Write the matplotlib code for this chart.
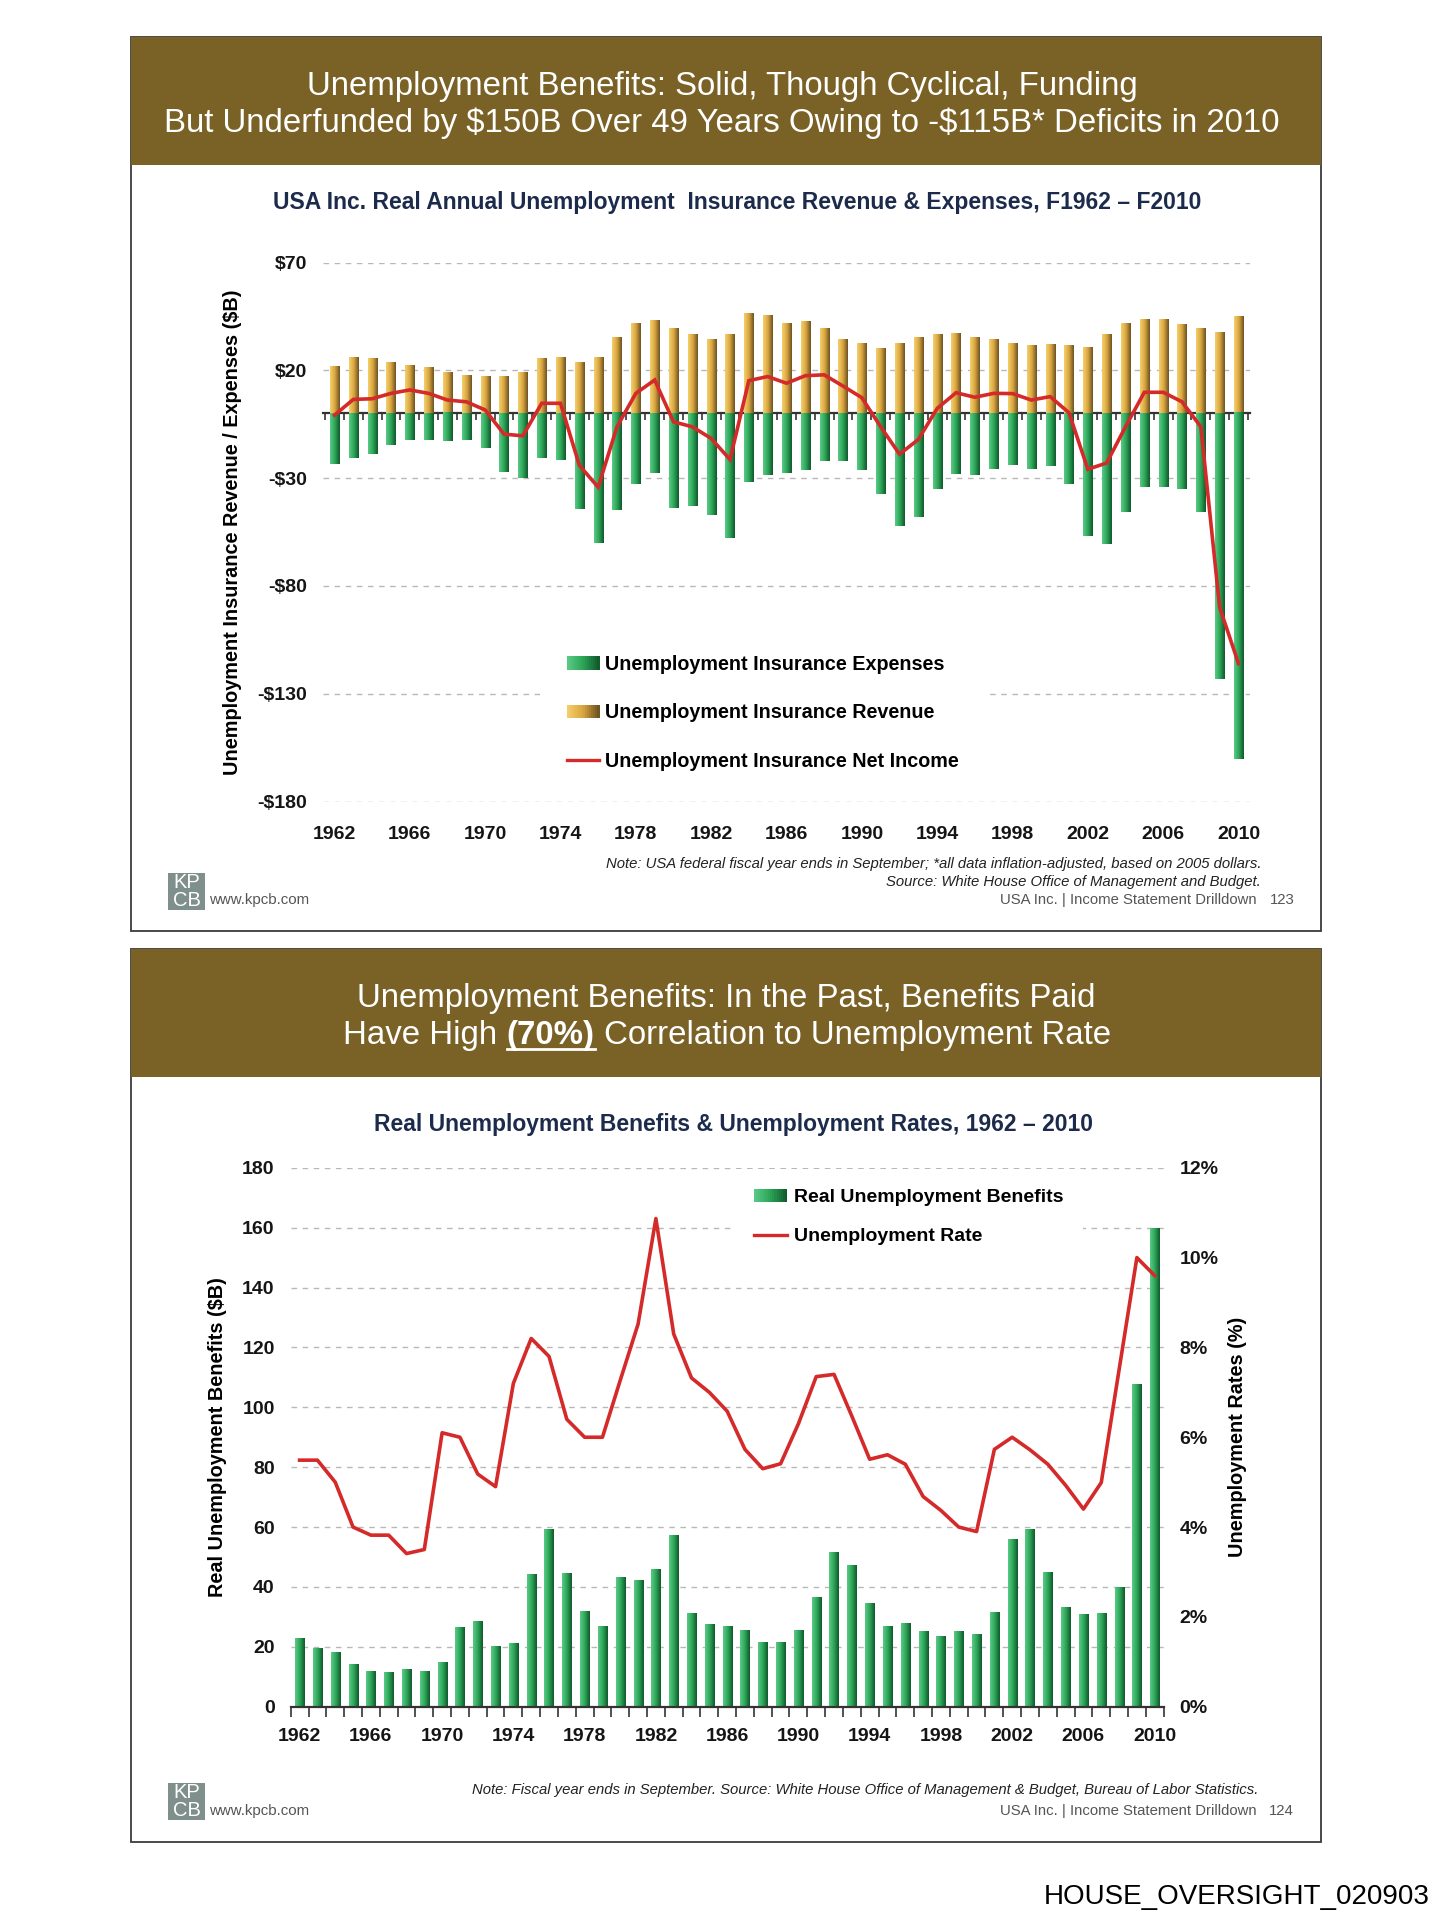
import numpy as np
import matplotlib.pyplot as plt
from matplotlib.patches import Rectangle
from matplotlib.lines import Line2D
from matplotlib.colors import LinearSegmentedColormap
from matplotlib.legend_handler import HandlerBase

plt.rcParams['font.family'] = ['Liberation Sans', 'DejaVu Sans']

W, H = 1453, 1920

# ---- data ----
years = np.arange(1962, 2011)
year_ticks = list(range(1962, 2011, 4))

# top chart: real UI revenue / expenses / net income ($B)
revenue = [21.7, 25.8, 25.2, 23.3, 22.2, 21.0, 18.6, 17.5, 16.9, 16.9, 18.6, 25.2, 25.8,
           23.3, 25.8, 34.9, 41.3, 43.0, 39.0, 36.5, 34.2, 36.5, 46.3, 45.3, 41.3, 42.3, 39.3,
           34.0, 32.3, 30.0, 32.3, 35.2, 36.3, 36.8, 35.2, 34.0, 32.3, 31.2, 31.8, 31.2, 30.6,
           36.3, 41.6, 43.3, 43.3, 41.0, 39.3, 37.4, 44.6]
expenses = [-23.3, -20.5, -18.6, -14.6, -12.4, -12.4, -13.0, -12.4, -16.0, -27.3, -29.8, -20.5, -21.4,
            -44.4, -60.2, -45.0, -32.6, -27.8, -43.9, -43.0, -47.0, -57.8, -31.8, -28.4, -27.8, -26.2, -22.0,
            -22.0, -26.2, -37.3, -52.2, -48.1, -34.9, -28.0, -28.6, -25.6, -24.1, -25.6, -24.5, -32.8, -56.8,
            -60.4, -45.8, -34.3, -34.3, -35.2, -45.8, -123.0, -160.5]
net_income = [-0.8, 6.5, 6.8, 9.3, 10.9, 9.3, 6.2, 5.4, 1.6, -9.6, -10.4, 4.7, 4.7,
              -24.1, -34.2, -6.2, 9.3, 15.5, -3.9, -6.2, -11.6, -21.4, 15.2, 17.1, 14.0, 17.5, 17.9,
              12.7, 7.3, -6.2, -18.9, -12.1, 2.3, 9.6, 7.5, 9.3, 9.2, 6.2, 7.8, 0.3, -25.9,
              -23.0, -6.2, 9.8, 9.8, 5.4, -6.2, -90.0, -116.0]
top_yticks = [70, 20, -30, -80, -130, -180]
top_ylabels = ['$70', '$20', '-$30', '-$80', '-$130', '-$180']

# bottom chart: real benefits ($B) and unemployment rate (%)
benefits = [22.9, 19.5, 18.1, 14.2, 11.8, 11.4, 12.5, 11.8, 15.0, 26.5, 28.6, 20.2, 21.3,
            44.2, 59.4, 44.5, 32.0, 27.0, 43.2, 42.4, 46.0, 57.3, 31.2, 27.6, 27.0, 25.4, 21.6,
            21.6, 25.4, 36.5, 51.5, 47.4, 34.6, 27.0, 28.0, 25.1, 23.4, 25.1, 24.1, 31.5, 55.9,
            59.2, 44.9, 33.1, 30.8, 31.2, 40.0, 107.7, 159.9]
unemp_rate = [5.49, 5.49, 5.0, 4.0, 3.82, 3.82, 3.41, 3.5, 6.1, 6.0, 5.18, 4.9, 7.2,
              8.2, 7.8, 6.4, 6.0, 6.0, 7.27, 8.52, 10.87, 8.3, 7.32, 7.0, 6.58, 5.73, 5.3,
              5.41, 6.3, 7.35, 7.4, 6.47, 5.51, 5.61, 5.4, 4.68, 4.37, 4.0, 3.9, 5.73, 6.0,
              5.72, 5.4, 4.93, 4.4, 4.99, 7.5, 10.0, 9.6]
left_ticks = list(range(0, 181, 20))
right_ticks = list(range(0, 13, 2))

BROWN = '#7a6126'
NAVY = '#1c2b4b'
RED = '#d42a2a'
GRID = '#b8b8b8'
green_cmap = LinearSegmentedColormap.from_list('g', ['#5bcb86', '#2ca558', '#10572a'])
gold_cmap = LinearSegmentedColormap.from_list('y', ['#f5d06a', '#d9a640', '#6b5021'])
grad = np.linspace(0, 1, 64).reshape(1, -1)


def box(x0, y0, x1, y1):
    return [x0 / W, 1 - y1 / H, (x1 - x0) / W, (y1 - y0) / H]


def gradient_bars(ax, xs, heights, width, cmap):
    bars = ax.bar(xs, heights, width, color='none', edgecolor='none')
    for b in bars:
        x0, y0 = b.get_xy()
        ax.imshow(grad, cmap=cmap, extent=[x0, x0 + b.get_width(), y0, y0 + b.get_height()],
                  aspect='auto', interpolation='bicubic', zorder=2)
    return bars


class GradHandler(HandlerBase):
    def __init__(self, cmap):
        super().__init__()
        self.cmap = cmap

    def create_artists(self, legend, orig_handle, xd, yd, width, height, fontsize, trans):
        n = 16
        return [Rectangle((-xd + width * i / n, -yd), width / n + 0.3, height,
                          fc=self.cmap((i + 0.5) / n), ec='none', transform=trans)
                for i in range(n)]


fig = plt.figure(figsize=(W / 100, H / 100), dpi=100)


def panel(y0, y1, hdr):
    fig.add_artist(Rectangle((130.5 / W, 1 - y1 / H), (1321 - 130.5) / W, (y1 - y0) / H,
                             transform=fig.transFigure, fc='white', ec='#3a3a3a', lw=1.3, zorder=-2))
    fig.add_artist(Rectangle((130.5 / W, 1 - hdr / H), (1321 - 130.5) / W, (hdr - y0) / H,
                             transform=fig.transFigure, fc=BROWN, ec='none', zorder=-1))


def footer(y_logo, y_url):
    fig.add_artist(Rectangle((168 / W, 1 - (y_logo + 37) / H), 37 / W, 37 / H,
                             transform=fig.transFigure, fc='#7f8f8c', ec='none'))
    fig.text(186.5 / W, 1 - (y_logo + 10) / H, 'KP', color='white', size=14.5, ha='center', va='center')
    fig.text(186.5 / W, 1 - (y_logo + 28) / H, 'CB', color='white', size=14.5, ha='center', va='center')
    fig.text(209 / W, 1 - y_url / H, 'www.kpcb.com', color='#555555', size=10.8, ha='left', va='center')


# ================= top panel =================
panel(36.7, 930.6, 165)
fig.text(722 / W, 1 - 86 / H, 'Unemployment Benefits: Solid, Though Cyclical, Funding',
         color='white', size=23.8, ha='center', va='center')
fig.text(722 / W, 1 - 123 / H, 'But Underfunded by $150B Over 49 Years Owing to -$115B* Deficits in 2010',
         color='white', size=23.8, ha='center', va='center', parse_math=False)
fig.text(737 / W, 1 - 203 / H,
         'USA Inc. Real Annual Unemployment  Insurance Revenue & Expenses, F1962 \u2013 F2010',
         color=NAVY, size=16.5, weight='bold', ha='center', va='center')

x = np.arange(len(years))
ax1 = fig.add_axes(box(323.2, 262.5, 1249.8, 801.5))
ax1.patch.set_visible(False)
gradient_bars(ax1, x, revenue, 0.48, gold_cmap)
gradient_bars(ax1, x, expenses, 0.48, green_cmap)
ax1.plot(x, net_income, color=RED, lw=2.6, zorder=4, solid_joinstyle='miter')
ax1.set_xlim(-0.6, 48.6)
ax1.set_ylim(-180, 70)
ax1.set_yticks(top_yticks)
ax1.set_yticklabels(top_ylabels, fontweight='bold')
ax1.set_xticks([int(np.where(years == y)[0][0]) for y in year_ticks])
ax1.set_xticklabels([str(y) for y in year_ticks], fontweight='bold')
for s in ax1.spines.values():
    s.set_visible(False)
ax1.tick_params(axis='both', length=0, labelsize=14, colors='#151515')
ax1.tick_params(axis='y', pad=11.5)
ax1.tick_params(axis='x', pad=17.5)
ax1.grid(axis='y', ls=(0, (4, 4)), color=GRID, lw=1)
ax1.set_axisbelow(True)
ax1.set_ylabel('Unemployment Insurance Revenue / Expenses ($B)', fontsize=14.3, fontweight='bold')
ax1.yaxis.set_label_coords((242 - 323.2) / 926.6, 0.5)

zero_ax = ax1.secondary_xaxis(180 / 250)
zero_ax.set_alignment('bottom')
zero_ax.set_xticks(np.arange(-0.5, 49, 1.0))
zero_ax.tick_params(axis='x', length=5, width=1.2, direction='out', labelbottom=False,
                    labeltop=False, color='#333333')
zero_ax.spines['bottom'].set_linewidth(1.6)
zero_ax.spines['bottom'].set_color('#333333')

h_exp, h_rev = Rectangle((0, 0), 1, 1), Rectangle((0, 0), 1, 1)
h_net = Line2D([], [], color=RED, lw=2.4)
leg1 = ax1.legend([h_exp, h_rev, h_net],
                  ['Unemployment Insurance Expenses', 'Unemployment Insurance Revenue',
                   'Unemployment Insurance Net Income'],
                  handler_map={h_exp: GradHandler(green_cmap), h_rev: GradHandler(gold_cmap)},
                  loc='center left', bbox_to_anchor=(540 / W, 1 - 713 / H),
                  bbox_transform=fig.transFigure, borderaxespad=0, borderpad=1.35,
                  frameon=True, facecolor='white', edgecolor='none', framealpha=1, fancybox=False,
                  prop={'size': 14.2, 'weight': 'bold'}, handlelength=1.65, handletextpad=0.3,
                  labelspacing=1.5)

fig.text(1261 / W, 1 - 864 / H,
         'Note: USA federal fiscal year ends in September; *all data inflation-adjusted, based on 2005 dollars.',
         style='italic', size=10.7, ha='right', va='center', color='#222222')
fig.text(1261 / W, 1 - 882 / H, 'Source: White House Office of Management and Budget.',
         style='italic', size=10.7, ha='right', va='center', color='#222222')
fig.text(1257 / W, 1 - 900 / H, 'USA Inc. | Income Statement Drilldown', size=10.7,
         ha='right', va='center', color='#555555')
fig.text(1295 / W, 1 - 900 / H, '123', size=10.7, ha='right', va='center', color='#555555')
footer(872.7, 900)

# ================= bottom panel =================
panel(949, 1842, 1077)
fig.text(726 / W, 1 - 999 / H, 'Unemployment Benefits: In the Past, Benefits Paid',
         color='white', size=23.8, ha='center', va='center')
renderer = fig.canvas.get_renderer()
parts = [('Have High ', 'normal'), ('(70%)', 'bold'), (' Correlation to Unemployment Rate', 'normal')]
pieces = [fig.text(0, 1 - 1044 / H, s, weight=w, color='white', size=23.8, ha='left', va='baseline')
          for s, w in parts]
widths = [t.get_window_extent(renderer).width for t in pieces]
xpos = 727 - sum(widths) / 2
for t, wd in zip(pieces, widths):
    t.set_x(xpos / W)
    if t.get_text() == '(70%)':
        fig.add_artist(Line2D([xpos / W, (xpos + wd) / W], [1 - 1049 / H, 1 - 1049 / H],
                              color='white', lw=2, transform=fig.transFigure))
    xpos += wd
fig.text(733.5 / W, 1 - 1125 / H, 'Real Unemployment Benefits & Unemployment Rates, 1962 \u2013 2010',
         color=NAVY, size=16.5, weight='bold', ha='center', va='center')

ax2 = fig.add_axes(box(290.7, 1167.8, 1163.6, 1706.7))
ax2.patch.set_visible(False)
gradient_bars(ax2, x, benefits, 0.51, green_cmap)
ax2.set_xlim(-0.5, 48.5)
ax2.set_ylim(0, 180)
ax2.set_yticks(left_ticks)
ax2.set_yticklabels([str(v) for v in left_ticks], fontweight='bold')
ax2.set_xticks([int(np.where(years == y)[0][0]) for y in year_ticks])
ax2.set_xticklabels([str(y) for y in year_ticks], fontweight='bold')
ax2.set_xticks(np.arange(-0.5, 49, 1.0), minor=True)
for k in ['left', 'right', 'top']:
    ax2.spines[k].set_visible(False)
ax2.spines['bottom'].set_linewidth(1.6)
ax2.spines['bottom'].set_color('#333333')
ax2.tick_params(axis='both', which='major', length=0, labelsize=14, colors='#151515')
ax2.tick_params(axis='y', pad=11.5)
ax2.tick_params(axis='x', which='major', pad=15.5)
ax2.tick_params(axis='x', which='minor', length=7, width=1.2, direction='out', color='#333333')
ax2.tick_params(axis='y', which='minor', length=0)
ax2.grid(axis='y', ls=(0, (4, 4)), color=GRID, lw=1)
ax2.set_axisbelow(True)
ax2.set_ylabel('Real Unemployment Benefits ($B)', fontsize=14.3, fontweight='bold')
ax2.yaxis.set_label_coords((227 - 290.7) / 872.9, 0.5)

ax2r = ax2.twinx()
ax2r.plot(x, unemp_rate, color=RED, lw=2.6, zorder=4)
ax2r.set_ylim(0, 12)
ax2r.set_yticks(right_ticks)
ax2r.set_yticklabels([f'{v}%' for v in right_ticks], fontweight='bold')
for s in ax2r.spines.values():
    s.set_visible(False)
ax2r.tick_params(axis='y', length=0, labelsize=14, pad=11.5, colors='#151515')
ax2r.set_ylabel('Unemployment Rates (%)', fontsize=14.3, fontweight='bold')
ax2r.yaxis.set_label_coords((1228 - 290.7) / 872.9, 0.5)

h_ben = Rectangle((0, 0), 1, 1)
h_rate = Line2D([], [], color=RED, lw=2.4)
ax2r.legend([h_ben, h_rate], ['Real Unemployment Benefits', 'Unemployment Rate'],
            handler_map={h_ben: GradHandler(green_cmap)},
            loc='center left', bbox_to_anchor=(735 / W, 1 - 1217 / H),
            bbox_transform=fig.transFigure, borderaxespad=0, borderpad=1.0,
            frameon=True, facecolor='white', edgecolor='none', framealpha=1, fancybox=False,
            prop={'size': 14, 'weight': 'bold'}, handlelength=1.65, handletextpad=0.4,
            labelspacing=1.1)

fig.text(1258 / W, 1 - 1790 / H,
         'Note: Fiscal year ends in September. Source: White House Office of Management & Budget, Bureau of Labor Statistics.',
         style='italic', size=10.7, ha='right', va='center', color='#222222')
fig.text(1257 / W, 1 - 1811 / H, 'USA Inc. | Income Statement Drilldown', size=10.7,
         ha='right', va='center', color='#555555')
fig.text(1294 / W, 1 - 1811 / H, '124', size=10.7, ha='right', va='center', color='#555555')
footer(1783, 1811)

fig.text(1430 / W, 1 - 1897 / H, 'HOUSE_OVERSIGHT_020903', size=20, ha='right', va='center', color='black')

fig.savefig('out.png', dpi=100, facecolor='white')
